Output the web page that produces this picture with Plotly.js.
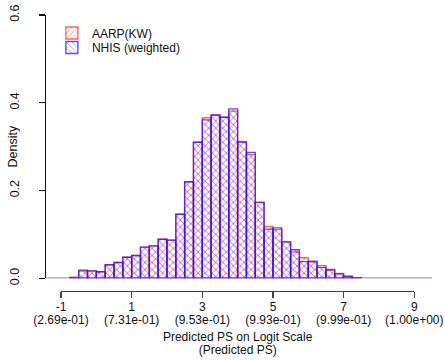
<!DOCTYPE html>
<html>
<head>
<meta charset="utf-8">
<script src="https://cdn.plot.ly/plotly-3.0.1.min.js"></script>
<style>html,body{margin:0;padding:0;background:#fff}#chart{width:445px;height:360px}</style>
</head>
<body>
<div id="chart"></div>
<script>
// Histogram bins (left edges, logit scale), width 0.25
const binStart = [-0.75,-0.5,-0.25,0,0.25,0.5,0.75,1,1.25,1.5,1.75,2,2.25,2.5,2.75,3,3.25,3.5,3.75,4,4.25,4.5,4.75,5,5.25,5.5,5.75,6,6.25,6.5,6.75,7,7.25];
const binWidth = 0.25;
const aarpDensity = [0.002,0.019,0.017,0.015,0.031,0.036,0.048,0.052,0.071,0.074,0.089,0.087,0.146,0.220,0.310,0.366,0.372,0.367,0.381,0.312,0.282,0.173,0.118,0.111,0.083,0.060,0.047,0.037,0.029,0.018,0.011,0.005,0.0015];
const nhisDensity = [0.002,0.017,0.017,0.015,0.031,0.036,0.048,0.052,0.071,0.074,0.089,0.087,0.146,0.220,0.310,0.361,0.372,0.367,0.386,0.310,0.287,0.173,0.112,0.115,0.083,0.065,0.038,0.039,0.025,0.020,0.010,0.004,0.0015];
// full histogram span (empty bins drawn as baseline)
const histSpan = [-1.5, 9.5];
const xTickVals = [-1,1,3,5,7,9];
const xTickLogit = ["-1","1","3","5","7","9"];
const xTickPS = ["(2.69e-01)","(7.31e-01)","(9.53e-01)","(9.93e-01)","(9.99e-01)","(1.00e+00)"];
const yTickVals = [0,0.2,0.4,0.6];
const yTickText = ["0.0","0.2","0.4","0.6"];
const seriesNames = ["AARP(KW)","NHIS (weighted)"];
const xTitleLines = ["Predicted PS on Logit Scale","(Predicted PS)"];
const yTitle = "Density";

const FAM = "Liberation Sans, Arial, sans-serif";
const TXT = "#111";
const FS = 12;

const traces = [
  {
    type:"scatter", mode:"lines", x:histSpan, y:[0,0],
    line:{color:"rgba(110,60,230,0.9)", width:1.5},
    hoverinfo:"skip", showlegend:false
  },
  {
    type:"bar", name:seriesNames[0], x:binStart, y:aarpDensity,
    width:binWidth, offset:0, legend:"legend",
    marker:{color:"rgba(255,40,40,0.55)",
      line:{color:"rgba(255,0,0,0.6)", width:1.4},
      pattern:{shape:"/", size:5, solidity:0.2, fillmode:"replace"}}
  },
  {
    type:"bar", name:seriesNames[1], x:binStart, y:nhisDensity,
    width:binWidth, offset:0, legend:"legend2",
    marker:{color:"rgba(40,40,255,0.5)",
      line:{color:"rgba(50,20,230,0.75)", width:1.4},
      pattern:{shape:"\\", size:5, solidity:0.2, fillmode:"replace"}}
  },
  {
    type:"scatter", mode:"markers", x:xTickVals, y:xTickVals.map(()=>0),
    xaxis:"x2", yaxis:"y", marker:{opacity:0}, hoverinfo:"skip", showlegend:false
  },
  {
    type:"scatter", mode:"markers", x:xTickVals, y:xTickVals.map(()=>0),
    xaxis:"x3", yaxis:"y", marker:{opacity:0}, hoverinfo:"skip", showlegend:false
  },
  {
    type:"scatter", mode:"markers", x:histSpan, y:[0,0],
    xaxis:"x", yaxis:"y2", marker:{opacity:0}, hoverinfo:"skip", showlegend:false
  }
];

const legendCommon = {xanchor:"left", yanchor:"middle", bgcolor:"rgba(0,0,0,0)",
  font:{family:FAM, size:12, color:TXT}, itemwidth:30};

const layout = {
  width:445, height:360,
  margin:{l:46, r:5, t:15, b:69},
  paper_bgcolor:"#fff", plot_bgcolor:"rgba(0,0,0,0)",
  font:{family:FAM, size:FS, color:TXT},
  barmode:"overlay", bargap:0,
  showlegend:true,
  legend:Object.assign({x:0.015, y:0.935}, legendCommon),
  legend2:Object.assign({x:0.015, y:0.882}, legendCommon),
  xaxis:{domain:[0,1], range:[-1.425, 9.73], visible:false, fixedrange:true},
  xaxis2:{domain:[0.0381,0.9348], range:[-1,9], anchor:"free", position:0,
    showline:true, linecolor:"#444", linewidth:1.2, showgrid:false, zeroline:false,
    ticks:"outside", ticklen:6, tickwidth:1.2, tickcolor:"#444", ticklabelstandoff:-2,
    tickvals:xTickVals, ticktext:xTickLogit, tickfont:{family:FAM,size:FS,color:TXT},
    ticklabeloverflow:"allow",
    title:{text:xTitleLines[0], font:{family:FAM,size:FS,color:TXT}, standoff:20}},
  xaxis3:{domain:[0.0381,0.9348], range:[-1,9], anchor:"free", position:0,
    showline:false, showgrid:false, zeroline:false,
    ticks:"outside", ticklen:6, tickcolor:"rgba(0,0,0,0)", ticklabelstandoff:12,
    tickvals:xTickVals, ticktext:xTickPS, tickfont:{family:FAM,size:FS,color:TXT},
    ticklabeloverflow:"allow",
    title:{text:xTitleLines[1], font:{family:FAM,size:FS,color:TXT}, standoff:19}},
  yaxis:{domain:[0.046,1], range:[0,0.6], anchor:"x",
    showline:true, linecolor:"#111", linewidth:1.2, showgrid:false, zeroline:false,
    ticks:"outside", ticklen:6, tickwidth:1.2, tickcolor:"#111",
    tickvals:yTickVals, ticktext:yTickText, tickangle:-90, ticklabelstandoff:15,
    tickfont:{family:FAM,size:12.5,color:TXT}},
  yaxis2:{domain:[0.046,1], range:[0,0.6], overlaying:"y", side:"left", anchor:"x",
    showline:false, showgrid:false, zeroline:false, ticks:"", showticklabels:false,
    title:{text:yTitle, font:{family:FAM,size:12.5,color:TXT}, standoff:24}}
};

Plotly.newPlot("chart", traces, layout, {staticPlot:true, displayModeBar:false});
</script>
</body>
</html>
